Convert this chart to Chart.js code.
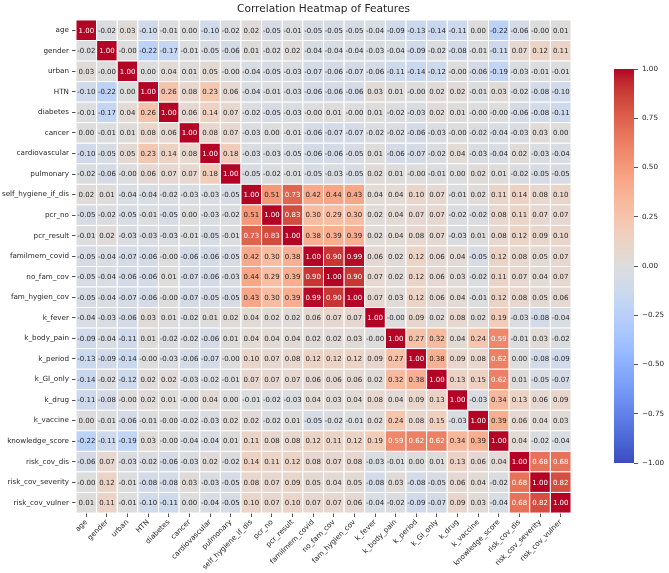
<!DOCTYPE html>
<html><head><meta charset="utf-8">
<script src="https://cdn.jsdelivr.net/npm/chart.js@4.4.0/dist/chart.umd.min.js"></script>
<style>
html,body{margin:0;padding:0;background:#fff;overflow:hidden;width:669px;height:573px}
#mainWrap{position:absolute;left:0;top:0;width:669px;height:573px}
#cbarWrap{position:absolute;left:600px;top:60px;width:69px;height:420px}
</style></head><body>
<div id="mainWrap"><canvas id="main"></canvas></div>
<div id="cbarWrap"><canvas id="cbar"></canvas></div>
<script>
const labels = ['age','gender','urban','HTN','diabetes','cancer','cardiovascular','pulmonary','self_hygiene_if_dis','pcr_no','pcr_result','familmem_covid','no_fam_cov','fam_hygien_cov','k_fever','k_body_pain','k_period','k_GI_only','k_drug','k_vaccine','knowledge_score','risk_cov_dis','risk_cov_severity','risk_cov_vulner'];

const rAge = [1.00,-0.02,0.03,-0.10,-0.01,0.00,-0.10,-0.02,0.02,-0.05,-0.01,-0.05,-0.05,-0.05,-0.04,-0.09,-0.13,-0.14,-0.11,0.00,-0.22,-0.06,-0.00,0.01];
const rGender = [-0.02,1.00,-0.00,-0.22,-0.17,-0.01,-0.05,-0.06,0.01,-0.02,0.02,-0.04,-0.04,-0.04,-0.03,-0.04,-0.09,-0.02,-0.08,-0.01,-0.11,0.07,0.12,0.11];
const rUrban = [0.03,-0.00,1.00,0.00,0.04,0.01,0.05,-0.00,-0.04,-0.05,-0.03,-0.07,-0.06,-0.07,-0.06,-0.11,-0.14,-0.12,-0.00,-0.06,-0.19,-0.03,-0.01,-0.01];
const rHTN = [-0.10,-0.22,0.00,1.00,0.26,0.08,0.23,0.06,-0.04,-0.01,-0.03,-0.06,-0.06,-0.06,0.03,0.01,-0.00,0.02,0.02,-0.01,0.03,-0.02,-0.08,-0.10];
const rDiabetes = [-0.01,-0.17,0.04,0.26,1.00,0.06,0.14,0.07,-0.02,-0.05,-0.03,-0.00,0.01,-0.00,0.01,-0.02,-0.03,0.02,0.01,-0.00,-0.00,-0.06,-0.08,-0.11];
const rCancer = [0.00,-0.01,0.01,0.08,0.06,1.00,0.08,0.07,-0.03,0.00,-0.01,-0.06,-0.07,-0.07,-0.02,-0.02,-0.06,-0.03,-0.00,-0.02,-0.04,-0.03,0.03,0.00];
const rCardio = [-0.10,-0.05,0.05,0.23,0.14,0.08,1.00,0.18,-0.03,-0.03,-0.05,-0.06,-0.06,-0.05,0.01,-0.06,-0.07,-0.02,0.04,-0.03,-0.04,0.02,-0.03,-0.04];
const rPulm = [-0.02,-0.06,-0.00,0.06,0.07,0.07,0.18,1.00,-0.05,-0.02,-0.01,-0.05,-0.03,-0.05,0.02,0.01,-0.00,-0.01,0.00,0.02,0.01,-0.02,-0.05,-0.05];
const rSelfHyg = [0.02,0.01,-0.04,-0.04,-0.02,-0.03,-0.03,-0.05,1.00,0.51,0.73,0.42,0.44,0.43,0.04,0.04,0.10,0.07,-0.01,0.02,0.11,0.14,0.08,0.10];
const rPcrNo = [-0.05,-0.02,-0.05,-0.01,-0.05,0.00,-0.03,-0.02,0.51,1.00,0.83,0.30,0.29,0.30,0.02,0.04,0.07,0.07,-0.02,-0.02,0.08,0.11,0.07,0.07];
const rPcrRes = [-0.01,0.02,-0.03,-0.03,-0.03,-0.01,-0.05,-0.01,0.73,0.83,1.00,0.38,0.39,0.39,0.02,0.04,0.08,0.07,-0.03,0.01,0.08,0.12,0.09,0.10];
const rFamCov = [-0.05,-0.04,-0.07,-0.06,-0.00,-0.06,-0.06,-0.05,0.42,0.30,0.38,1.00,0.90,0.99,0.06,0.02,0.12,0.06,0.04,-0.05,0.12,0.08,0.05,0.07];
const rNoFam = [-0.05,-0.04,-0.06,-0.06,0.01,-0.07,-0.06,-0.03,0.44,0.29,0.39,0.90,1.00,0.90,0.07,0.02,0.12,0.06,0.03,-0.02,0.11,0.07,0.04,0.07];
const rFamHyg = [-0.05,-0.04,-0.07,-0.06,-0.00,-0.07,-0.05,-0.05,0.43,0.30,0.39,0.99,0.90,1.00,0.07,0.03,0.12,0.06,0.04,-0.01,0.12,0.08,0.05,0.06];
const rFever = [-0.04,-0.03,-0.06,0.03,0.01,-0.02,0.01,0.02,0.04,0.02,0.02,0.06,0.07,0.07,1.00,-0.00,0.09,0.02,0.08,0.02,0.19,-0.03,-0.08,-0.04];
const rBody = [-0.09,-0.04,-0.11,0.01,-0.02,-0.02,-0.06,0.01,0.04,0.04,0.04,0.02,0.02,0.03,-0.00,1.00,0.27,0.32,0.04,0.24,0.59,-0.01,0.03,-0.02];
const rPeriod = [-0.13,-0.09,-0.14,-0.00,-0.03,-0.06,-0.07,-0.00,0.10,0.07,0.08,0.12,0.12,0.12,0.09,0.27,1.00,0.38,0.09,0.08,0.62,0.00,-0.08,-0.09];
const rGI = [-0.14,-0.02,-0.12,0.02,0.02,-0.03,-0.02,-0.01,0.07,0.07,0.07,0.06,0.06,0.06,0.02,0.32,0.38,1.00,0.13,0.15,0.62,0.01,-0.05,-0.07];
const rDrug = [-0.11,-0.08,-0.00,0.02,0.01,-0.00,0.04,0.00,-0.01,-0.02,-0.03,0.04,0.03,0.04,0.08,0.04,0.09,0.13,1.00,-0.03,0.34,0.13,0.06,0.09];
const rVacc = [0.00,-0.01,-0.06,-0.01,-0.00,-0.02,-0.03,0.02,0.02,-0.02,0.01,-0.05,-0.02,-0.01,0.02,0.24,0.08,0.15,-0.03,1.00,0.39,0.06,0.04,0.03];
const rKnow = [-0.22,-0.11,-0.19,0.03,-0.00,-0.04,-0.04,0.01,0.11,0.08,0.08,0.12,0.11,0.12,0.19,0.59,0.62,0.62,0.34,0.39,1.00,0.04,-0.02,-0.04];
const rRiskDis = [-0.06,0.07,-0.03,-0.02,-0.06,-0.03,0.02,-0.02,0.14,0.11,0.12,0.08,0.07,0.08,-0.03,-0.01,0.00,0.01,0.13,0.06,0.04,1.00,0.68,0.68];
const rRiskSev = [-0.00,0.12,-0.01,-0.08,-0.08,0.03,-0.03,-0.05,0.08,0.07,0.09,0.05,0.04,0.05,-0.08,0.03,-0.08,-0.05,0.06,0.04,-0.02,0.68,1.00,0.82];
const rRiskVul = [0.01,0.11,-0.01,-0.10,-0.11,0.00,-0.04,-0.05,0.10,0.07,0.10,0.07,0.07,0.06,-0.04,-0.02,-0.09,-0.07,0.09,0.03,-0.04,0.68,0.82,1.00];

const matrix = [rAge,rGender,rUrban,rHTN,rDiabetes,rCancer,rCardio,rPulm,rSelfHyg,rPcrNo,rPcrRes,rFamCov,rNoFam,rFamHyg,rFever,rBody,rPeriod,rGI,rDrug,rVacc,rKnow,rRiskDis,rRiskSev,rRiskVul];
const cbarTicks = [-1,-0.75,-0.5,-0.25,0,0.25,0.5,0.75,1];

// coolwarm colormap stops (Moreland)
const CW = [[59,76,192],[68,90,204],[77,104,215],[87,117,225],[98,130,234],[108,142,241],[119,154,247],[130,165,251],[141,176,254],[152,185,255],[163,194,255],[174,201,253],[184,208,249],[194,213,244],[204,217,238],[213,219,230],[221,221,221],[229,216,209],[236,211,197],[241,204,185],[245,196,173],[247,187,160],[247,177,148],[247,166,135],[244,154,123],[241,141,111],[236,127,99],[229,112,88],[222,96,77],[213,80,66],[203,62,56],[192,40,47],[180,4,38]];
function cwRGB(v){
  let t = (v + 1) / 2; t = Math.max(0, Math.min(1, t));
  const p = t * (CW.length - 1); const i = Math.min(CW.length - 2, Math.floor(p)); const f = p - i;
  return CW[i].map((c, k) => c + (CW[i+1][k] - c) * f);
}
function cwCSS(v){ const c = cwRGB(v); return `rgb(${c[0].toFixed(1)},${c[1].toFixed(1)},${c[2].toFixed(1)})`; }
function lum(rgb){
  const l = rgb.map(c => { c /= 255; return c <= 0.03928 ? c / 12.92 : Math.pow((c + 0.055) / 1.055, 2.4); });
  return 0.2126*l[0] + 0.7152*l[1] + 0.0722*l[2];
}
function fmt(v){ const neg = v < 0 || Object.is(v, -0); return (neg ? '-' : '') + Math.abs(v).toFixed(2); }

const points = [];
matrix.forEach((row, i) => row.forEach((v, j) => points.push({x: labels[j], y: labels[i], v})));

const TXT = '#262626';
const FONT = 'DejaVu Sans';

function cellR(chart){
  const a = chart.chartArea;
  if (!a) return 10;
  return (a.right - a.left) / labels.length / 2 * Math.SQRT2;
}

const annotPlugin = {
  id: 'annot',
  afterDatasetsDraw(chart){
    const ctx = chart.ctx; const meta = chart.getDatasetMeta(0);
    ctx.save();
    ctx.font = `7px "${FONT}"`; ctx.textAlign = 'center'; ctx.textBaseline = 'middle';
    meta.data.forEach((el, k) => {
      const v = points[k].v;
      ctx.fillStyle = lum(cwRGB(v)) > 0.408 ? TXT : '#ffffff';
      ctx.fillText(fmt(v), el.x, el.y + 0.5);
    });
    ctx.restore();
  },
  afterDraw(chart){
    const ctx = chart.ctx; const a = chart.chartArea;
    ctx.save();
    ctx.font = `10.6px "${FONT}"`; ctx.fillStyle = TXT; ctx.textAlign = 'center'; ctx.textBaseline = 'middle';
    ctx.fillText('Correlation Heatmap of Features', (a.left + a.right) / 2, 9);
    ctx.restore();
  }
};

new Chart(document.getElementById('main'), {
  type: 'scatter',
  data: { datasets: [{
    data: points,
    pointStyle: 'rect',
    pointRadius: ctx => cellR(ctx.chart),
    pointHoverRadius: ctx => cellR(ctx.chart),
    backgroundColor: ctx => cwCSS(ctx.raw ? ctx.raw.v : 0),
    hoverBackgroundColor: ctx => cwCSS(ctx.raw ? ctx.raw.v : 0),
    borderColor: '#ffffff',
    hoverBorderColor: '#ffffff',
    borderWidth: 1,
    hoverBorderWidth: 1
  }]},
  options: {
    responsive: true, maintainAspectRatio: false, animation: false,
    events: [],
    layout: { padding: { top: 20, right: 98, left: 0, bottom: 0 } },
    plugins: { legend: { display: false }, tooltip: { enabled: false }, title: { display: false } },
    scales: {
      x: {
        type: 'category', labels: labels, offset: true, position: 'bottom',
        grid: { display: true, drawOnChartArea: false, drawTicks: true, tickLength: 4, offset: false, color: TXT, lineWidth: 0.8 },
        border: { display: false },
        ticks: { autoSkip: false, maxRotation: 45, minRotation: 45, padding: 1, color: TXT, font: { family: FONT, size: 7.2 } },
        afterFit: s => { s.height = 60; }
      },
      y: {
        type: 'category', labels: labels, offset: true, position: 'left',
        grid: { display: true, drawOnChartArea: false, drawTicks: true, tickLength: 4, offset: false, color: TXT, lineWidth: 0.8 },
        border: { display: false },
        ticks: { autoSkip: false, padding: 3, color: TXT, font: { family: FONT, size: 7.2 } },
        afterFit: s => { s.width = 76; }
      }
    }
  },
  plugins: [annotPlugin]
});

const gradPlugin = {
  id: 'grad',
  beforeDatasetsDraw(chart){
    const ctx = chart.ctx; const a = chart.chartArea; const ys = chart.scales.y;
    const y0 = ys.getPixelForValue(-1), y1 = ys.getPixelForValue(1);
    const g = ctx.createLinearGradient(0, y0, 0, y1);
    CW.forEach((c, i) => g.addColorStop(i / (CW.length - 1), `rgb(${c[0]},${c[1]},${c[2]})`));
    ctx.save(); ctx.fillStyle = g; ctx.fillRect(a.left, y1, a.right - a.left, y0 - y1); ctx.restore();
  }
};

new Chart(document.getElementById('cbar'), {
  type: 'scatter',
  data: { datasets: [] },
  options: {
    responsive: true, maintainAspectRatio: false, animation: false, events: [],
    layout: { padding: { left: 14, top: 9, bottom: 17, right: 0 } },
    plugins: { legend: { display: false }, tooltip: { enabled: false } },
    scales: {
      x: { display: false },
      y: {
        type: 'linear', position: 'right', min: -1, max: 1,
        afterBuildTicks: s => { s.ticks = cbarTicks.map(v => ({ value: v })); },
        grid: { display: true, drawOnChartArea: false, drawTicks: true, tickLength: 4, color: TXT, lineWidth: 0.8 },
        border: { display: false },
        ticks: { padding: 4, color: TXT, font: { family: FONT, size: 7.2 },
          callback: v => (v < 0 ? '\u2212' : '') + Math.abs(v).toFixed(2) },
        afterFit: s => { s.width = 35; }
      }
    }
  },
  plugins: [gradPlugin]
});
</script>
</body></html>
